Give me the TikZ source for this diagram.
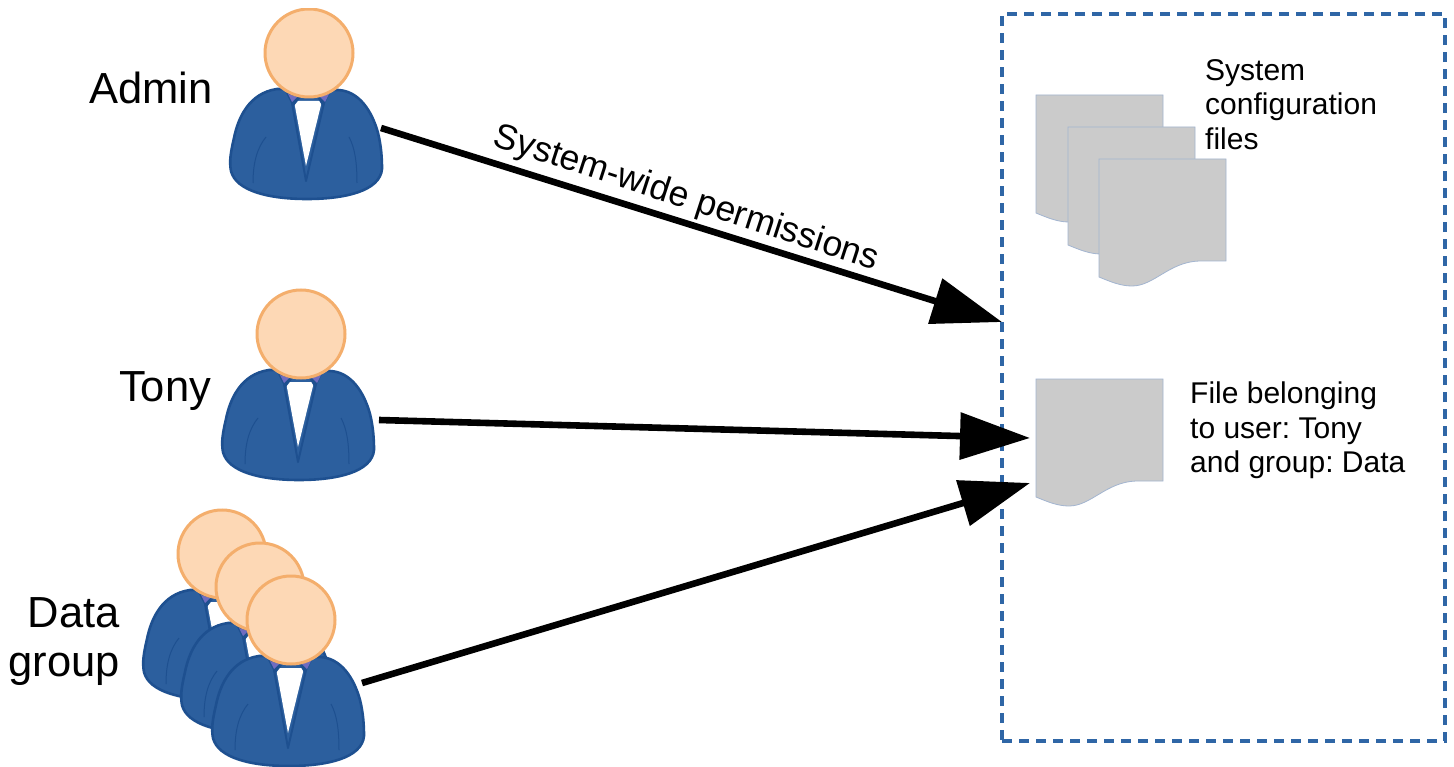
\documentclass[tikz,border=0pt]{standalone}
\usepackage{fontspec}
\setmainfont{Liberation Sans}
\usetikzlibrary{arrows.meta}
\definecolor{suit}{HTML}{2C5F9E}
\definecolor{suitline}{HTML}{1E5090}
\definecolor{skin}{HTML}{FDD8B5}
\definecolor{skinline}{HTML}{F4AE6C}
\definecolor{tiec}{HTML}{6F6CC0}
\definecolor{docfill}{HTML}{CBCBCB}
\definecolor{docline}{HTML}{A3B5D0}
\definecolor{boxline}{HTML}{2F66A6}
\frenchspacing
\tikzset{
  x=1pt,y=-1pt,
  bodyshape/.style={fill=suit,draw=suitline,line width=2.6pt,line join=round},
  headshape/.style={circle,fill=skin,draw=skinline,line width=3pt,minimum size=88pt,inner sep=0pt},
  crease/.style={draw=suitline,line width=1pt},
  docshape/.style={fill=docfill,draw=docline,line width=.8pt},
  bigarrow/.style={-{Triangle[length=70pt,width=46pt]},line width=6.6pt,black,shorten >=0pt},
  lbl/.style={inner sep=0pt,text=black,font=\fontsize{43.5}{49}\selectfont,align=right},
  small/.style={inner sep=0pt,text=black,font=\fontsize{30}{34.5}\selectfont,align=left,anchor=north west},
}
\newcommand{\personfig}[3]{%
  \begin{scope}[shift={(#2,#3)}]
    \path[bodyshape] (-32,36) .. controls (-60,40) and (-71,65) .. (-75,85)
      .. controls (-78,98) and (-80,108) .. (-78,118)
      .. controls (-73,138) and (-40,146) .. (-2,146)
      .. controls (36,146) and (71,138) .. (73,116)
      .. controls (73,104) and (72,92) .. (69,80)
      .. controls (63,58) and (50,38) .. (29,37) -- cycle;
    \fill[white] (-15,48) -- (13,48) -- (-3,113) -- cycle;
    \draw[suitline,line width=2pt,line join=round] (-17,50) -- (-3,128) -- (15,50);
    \fill[suitline] (-24,38) -- (-8,44) -- (-16,54) -- cycle;
    \fill[suitline] (22,38) -- (8,44) -- (14,54) -- cycle;
    \fill[tiec] (-21,41) -- (-12,44) -- (-17,49) -- cycle;
    \fill[tiec] (20,41) -- (11,44) -- (16,49) -- cycle;
    \draw[crease] (-56,130) .. controls (-56,110) and (-52,95) .. (-43,84);
    \draw[crease] (48,130) .. controls (48,110) and (46,95) .. (40,84);
    \node[headshape] (#1) at (0,0) {};
  \end{scope}}
\newcommand{\docfig}[3]{%
  \path[docshape,shift={(#2,#3)}] (0,0) -- (127,0) -- (127,102) -- (100,102)
    .. controls (70,103) and (55,127) .. (33,127)
    .. controls (22,127) and (12,123) .. (0,118) -- cycle;
  \coordinate (#1) at (#2,#3);}
\begin{document}
\begin{tikzpicture}
\useasboundingbox (0,0) rectangle (1454,767);
\fill[white] (0,0) rectangle (1454,767);
% dashed region
\node[draw=boxline,line width=3.6pt,dash pattern=on 10pt off 7pt,minimum width=443pt,minimum height=727pt,inner sep=0pt,outer sep=0pt,anchor=north west] (region) at (1002.2,14.2) {};
% people
\begin{scope}
  \clip (0,9) rectangle (1454,767);
  \personfig{admin}{309}{53}
\end{scope}
\personfig{tony}{301}{334}
\begin{scope}
  \clip (0,0) rectangle (1454,767);
  \personfig{dataa}{222}{554}
  \personfig{datab}{260}{587}
  \personfig{datac}{291}{620}
\end{scope}
% documents
\docfig{cfga}{1036}{95}
\docfig{cfgb}{1068}{127}
\docfig{cfgc}{1099}{159}
\docfig{userfile}{1036}{379}
% labels
\node[lbl] (adminlabel) at (151,88) {Admin};
\node[lbl] (tonylabel) at (165,391) {Tony};
\node[lbl] (grouplabel) at (64,642) {Data\\group};
\node[inner sep=0pt,rotate=-18,font=\fontsize{35.5}{40}\selectfont] (edgelabel) at (686,199) {System-wide permissions};
\node[small] (cfglabel) at (1205,59) {System\\configuration\\files};
\node[small] (filelabel) at (1190,382) {File belonging\\to user: Tony\\and group: Data};
% connectors
\coordinate (adminout) at (381,128);
\coordinate (admintip) at (1002,322);
\coordinate (tonyout) at (379,420);
\coordinate (tonytip) at (1030,438);
\coordinate (dataout) at (362,683);
\coordinate (datatip) at (1030,483);
\draw[bigarrow] (adminout) -- (admintip);
\draw[bigarrow] (tonyout) -- (tonytip);
\draw[bigarrow] (dataout) -- (datatip);
\end{tikzpicture}
\end{document}
